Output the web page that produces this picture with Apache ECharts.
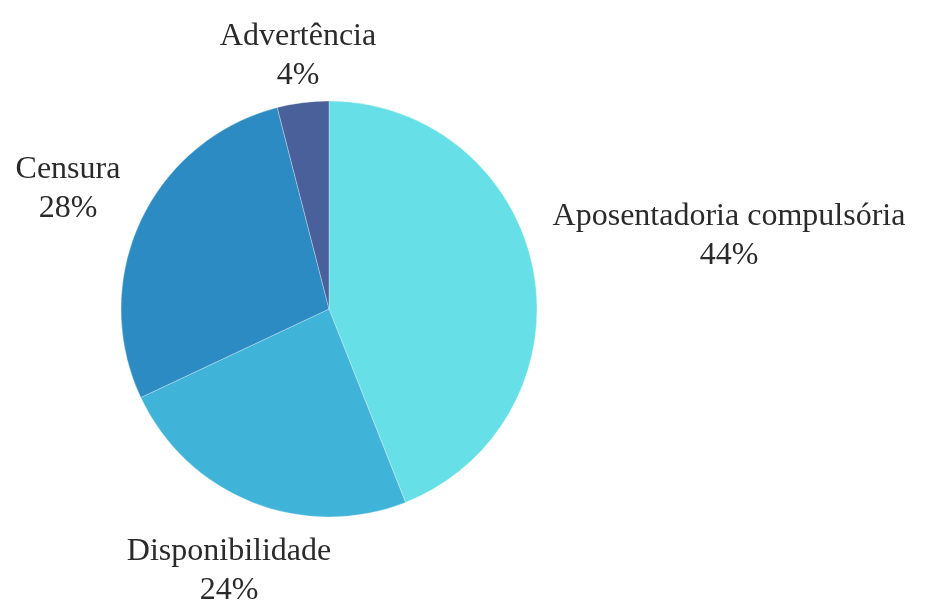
<!DOCTYPE html>
<html><head><meta charset="utf-8">
<script src="https://cdn.jsdelivr.net/npm/echarts@6/dist/echarts.min.js"></script>
<style>html,body{margin:0;padding:0;background:#fff}#c{width:925px;height:601px}</style>
</head><body><div id="c"></div>
<script>
const categories = ['Aposentadoria compulsória', 'Disponibilidade', 'Censura', 'Advertência'];
const values = [44, 24, 28, 4];
const colors = ['#66DFE6', '#40B3D8', '#2B8BC2', '#4A609A'];
const labelAt = [[729, 236], [229, 571], [68, 189], [298, 56]];

const chart = echarts.init(document.getElementById('c'));
chart.setOption({
  animation: false,
  series: [{
    type: 'pie',
    center: [329, 309],
    radius: 208,
    startAngle: 90,
    clockwise: true,
    data: categories.map((n, i) => ({ name: n, value: values[i], itemStyle: { color: colors[i] } })),
    itemStyle: { borderColor: 'rgba(255,255,255,0.6)', borderWidth: 0.5 },
    label: {
      show: true,
      position: 'outside',
      formatter: '{b}\n{c}%',
      fontFamily: 'Liberation Serif',
      fontSize: 32,
      lineHeight: 39,
      color: '#2a2a2a',
      align: 'center',
      overflow: 'none'
    },
    labelLine: { show: false },
    labelLayout: function (p) {
      const s = labelAt[p.dataIndex];
      return { x: s[0], y: s[1], align: 'center', verticalAlign: 'middle' };
    }
  }]
});
</script></body></html>
